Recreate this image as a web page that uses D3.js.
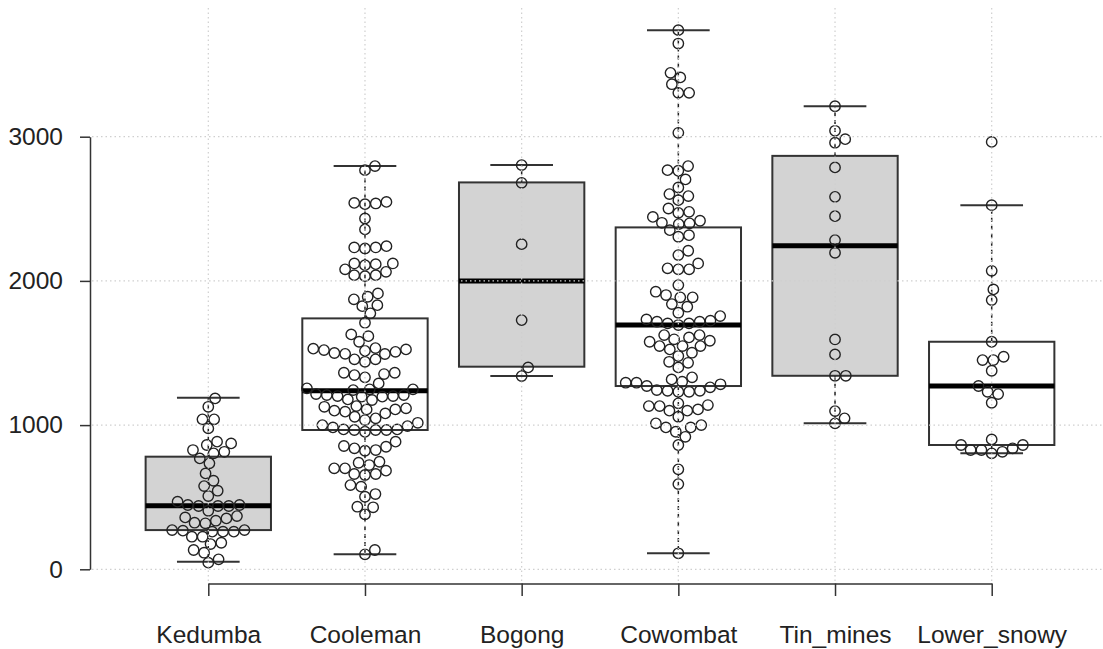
<!DOCTYPE html>
<html><head><meta charset="utf-8">
<script src="https://cdn.jsdelivr.net/npm/d3@7"></script>
<style>
html,body{margin:0;padding:0;background:#fff;}
svg{display:block;}
text{font-family:"Liberation Sans",Arial,sans-serif;fill:#222;}
</style></head>
<body><svg id="chart" width="1103" height="649"></svg>
<script>
const categories = ["Kedumba","Cooleman","Bogong","Cowombat","Tin_mines","Lower_snowy"];
const yTicks = [0,1000,2000,3000];

const kedumba = [1185,1127,1040,1040,977,885,873,862,815,827,804,769,735,665,614,577,545,508,
  446,439,439,439,446,469,406,360,369,353,337,323,319,272,261,261,272,261,268,226,226,175,184,115,134,46,69];
const cooleman = [2796,2768,2541,2532,2537,2548,2433,2357,2241,2232,2225,2232,2121,2116,2121,2109,
  2080,2040,2033,2040,2063,1913,1890,1872,1832,1825,1775,1710,1629,1617,1578,
  1530,1508,1493,1500,1515,1520,1494,1525,1534,1456,1439,1456,1354,1331,1347,1363,1363,1289,
  1243,1255,1248,1248,1208,1201,1174,1197,1197,1208,1178,1201,1215,
  1127,1116,1100,1081,1109,1093,1109,1132,1058,1047,1035,
  1016,1000,970,966,966,954,966,970,984,993,885,850,827,839,822,855,739,723,746,
  700,661,654,661,684,700,584,573,503,522,434,430,381,134,104];
const bogong = [2803,2680,2255,1728,1400,1340];
const cowombat = [3739,3646,3443,3411,3364,3304,3304,3027,2796,2764,2768,2704,2648,2602,2588,2560,
  2502,2472,2479,2444,2403,2399,2394,2417,2352,2306,2317,2179,2209,2087,2080,2080,2121,
  1971,1925,1886,1902,1886,1839,1821,1779,1756,1724,1705,1705,1717,1694,1717,1733,
  1624,1578,1624,1595,1608,1548,1525,1548,1502,1548,1585,1479,1439,1400,1432,1317,1331,
  1301,1294,1271,1243,1231,1238,1231,1238,1262,1283,1294,1139,1132,1109,1151,1100,1100,1132,
  1058,1012,984,984,1000,954,919,862,693,591,111];
const tinMines = [3211,3041,2983,2958,2787,2583,2449,2283,2195,1594,1490,1342,1342,1097,1047,1012];
const lowerSnowy = [2964,2525,2070,1941,1867,1578,1451,1451,1474,1377,1271,1231,1215,1155,901,862,862,839,827,827,815,804];

// box statistics: [lower whisker, Q1, median, Q3, upper whisker]
const boxStats = [
  [53,272,441,781,1190],
  [104,966,1238,1740,2796],
  [1340,1405,1999,2683,2803],
  [111,1271,1694,2371,3739],
  [1012,1342,2243,2867,3211],
  [804,862,1271,1578,2525]
];
const boxFill = ["#d3d3d3","#ffffff","#d3d3d3","#ffffff","#d3d3d3","#ffffff"];
const seriesValues = [kedumba,cooleman,bogong,cowombat,tinMines,lowerSnowy];

const svg = d3.select("#chart");
const x = d3.scalePoint().domain(categories).range([208.3, 991.7]);
const y = d3.scaleLinear().domain([0,3000]).range([569.3, 136.7]);
const step = x.step();
const boxHalf = step*0.4;
const capHalf = boxHalf*0.5;
const D = 10.8; // swarm spacing (px)

function swarm(vals){
  const pts = vals.map(v=>({v, py:y(v)})).sort((a,b)=>a.v-b.v);
  const placed=[];
  pts.forEach(p=>{
    const near = placed.filter(q=>Math.abs(q.py-p.py)<D);
    let cands=[0];
    near.forEach(q=>{const o=Math.sqrt(D*D-(q.py-p.py)**2); cands.push(q.off+o);});
    near.forEach(q=>{const o=Math.sqrt(D*D-(q.py-p.py)**2); cands.push(q.off-o);});
    let best=Infinity;
    cands.forEach(c=>{
      const bad = near.some(q=>((c-q.off)**2+(q.py-p.py)**2) < D*D*0.999);
      if(!bad && Math.abs(c)<Math.abs(best)){best=c;}
    });
    p.off = best===Infinity?0:best;
    placed.push(p);
  });
  return placed;
}

const gBoxes = svg.append("g");
categories.forEach((c,i)=>{
  const s = boxStats[i], cx = x(c);
  const g = gBoxes.append("g");
  g.append("line").attr("x1",cx).attr("x2",cx).attr("y1",y(s[3])).attr("y2",y(s[4]))
    .attr("stroke","#222").attr("stroke-width",1.5).attr("stroke-dasharray","4,4");
  g.append("line").attr("x1",cx).attr("x2",cx).attr("y1",y(s[1])).attr("y2",y(s[0]))
    .attr("stroke","#222").attr("stroke-width",1.5).attr("stroke-dasharray","4,4");
  [s[0],s[4]].forEach(v=>{
    g.append("line").attr("x1",cx-capHalf).attr("x2",cx+capHalf).attr("y1",y(v)).attr("y2",y(v))
      .attr("stroke","#333").attr("stroke-width",2);
  });
  g.append("rect").attr("x",cx-boxHalf).attr("width",2*boxHalf)
    .attr("y",y(s[3])).attr("height",y(s[1])-y(s[3]))
    .attr("fill",boxFill[i]).attr("stroke","#333").attr("stroke-width",2);
  g.append("line").attr("x1",cx-boxHalf).attr("x2",cx+boxHalf).attr("y1",y(s[2])).attr("y2",y(s[2]))
    .attr("stroke","#000").attr("stroke-width",5);
});

const gPts = svg.append("g");
categories.forEach((c,i)=>{
  const cx=x(c);
  gPts.selectAll(null).data(swarm(seriesValues[i])).enter().append("circle")
    .attr("cx",d=>cx+d.off).attr("cy",d=>d.py).attr("r",5.2)
    .attr("fill","none").attr("stroke","#222").attr("stroke-width",1.4);
});

const gGrid = svg.append("g").attr("stroke","#cfcfcf").attr("stroke-width",1.2).attr("stroke-dasharray","1.5,3");
yTicks.forEach(t=>{
  gGrid.append("line").attr("x1",92).attr("x2",1103).attr("y1",y(t)).attr("y2",y(t));
});
categories.forEach(c=>{
  gGrid.append("line").attr("x1",x(c)).attr("x2",x(c)).attr("y1",8).attr("y2",583);
});

const yAxis = svg.append("g").attr("transform","translate(90,0)")
  .call(d3.axisLeft(y).tickValues(yTicks).tickSize(10).tickSizeOuter(0).tickPadding(17).tickFormat(d3.format("d")));
const xAxis = svg.append("g").attr("transform","translate(0,583.5)")
  .call(d3.axisBottom(x).tickSize(12.5).tickSizeOuter(0).tickPadding(30));
[yAxis,xAxis].forEach(a=>{
  a.selectAll("path,line").attr("stroke","#333").attr("stroke-width",1.5);
  a.selectAll("text").attr("font-size",24.5).attr("fill","#222").style("font-family","'Liberation Sans',Arial,sans-serif");
});
</script></body></html>
